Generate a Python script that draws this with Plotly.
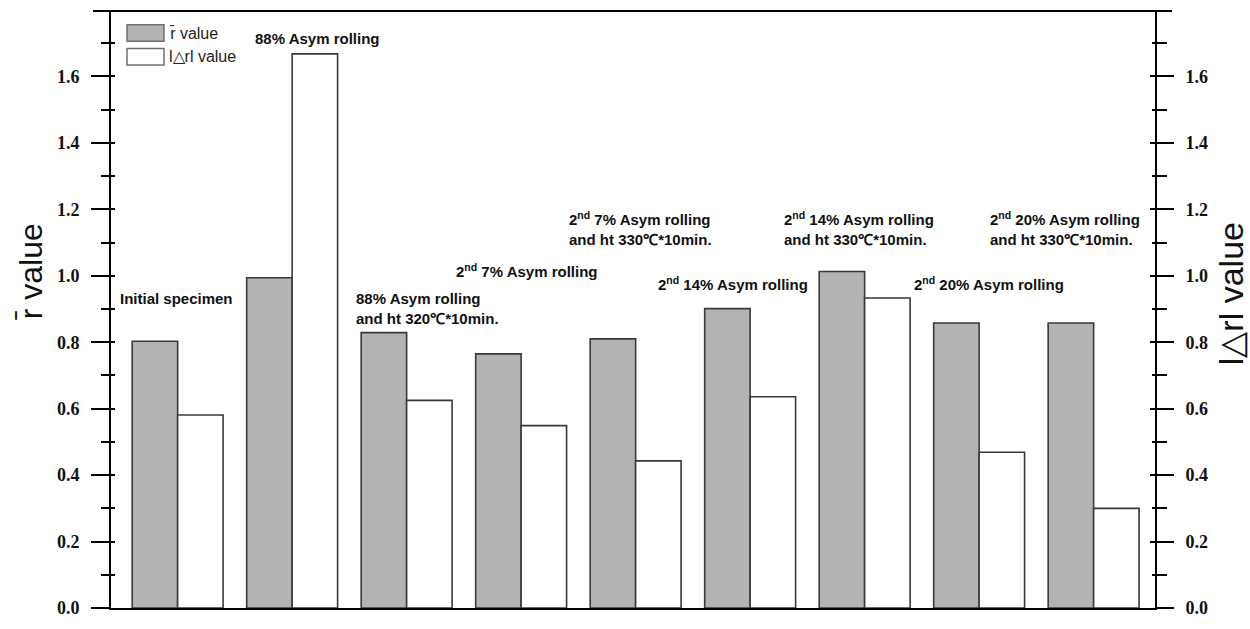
import plotly.graph_objects as go

# Sample conditions (one group of two bars each)
conditions = [
    "Initial specimen",
    "88% Asym rolling",
    "88% Asym rolling and ht 320℃*10min.",
    "2nd 7% Asym rolling",
    "2nd 7% Asym rolling and ht 330℃*10min.",
    "2nd 14% Asym rolling",
    "2nd 14% Asym rolling and ht 330℃*10min.",
    "2nd 20% Asym rolling",
    "2nd 20% Asym rolling and ht 330℃*10min.",
]
r_bar = [0.803, 0.994, 0.829, 0.765, 0.810, 0.901, 1.013, 0.858, 0.858]
delta_r = [0.581, 1.668, 0.625, 0.549, 0.443, 0.636, 0.933, 0.469, 0.300]

# Condition labels as drawn on the chart
labels = [
    "Initial specimen",
    "88% Asym rolling",
    "88% Asym rolling<br>and ht 320℃*10min.",
    "2<sup>nd</sup> 7% Asym rolling",
    "2<sup>nd</sup> 7% Asym rolling<br>and ht 330℃*10min.",
    "2<sup>nd</sup> 14% Asym rolling",
    "2<sup>nd</sup> 14% Asym rolling<br>and ht 330℃*10min.",
    "2<sup>nd</sup> 20% Asym rolling",
    "2<sup>nd</sup> 20% Asym rolling<br>and ht 330℃*10min.",
]
# label anchor (x in group units, y in value units)
label_x = [0.479, 1.656, 2.543, 3.416, 4.398, 5.178, 6.281, 7.416, 8.080]
label_y = [0.931, 1.713, 0.902, 1.016, 1.143, 0.978, 1.143, 0.978, 1.143]

x_pos = list(range(1, len(conditions) + 1))
Y_RANGE = [0, 1.797]
X_RANGE = [0.418, 9.536]
BAR_W = 0.397
GRAY = "#b3b3b3"
EDGE = "#3a3a3a"
TICK_FONT = dict(family="Liberation Serif, Times New Roman, serif", size=18,
                 color="#111", weight="bold")
SANS = "Liberation Sans, Arial, sans-serif"

# plot area in page pixels
PL, PR, PT, PB = 111, 1155, 11, 616


def px(x):
    return (x - PL) / (PR - PL)


def py(y):
    return (PB - y) / (PB - PT)


fig = go.Figure()
fig.add_trace(go.Bar(
    x=x_pos, y=r_bar, width=BAR_W, offset=-BAR_W,
    marker=dict(color=GRAY, line=dict(color=EDGE, width=1.6)),
    yaxis="y", name="r̄ value", showlegend=False, hovertext=conditions,
))
fig.add_trace(go.Bar(
    x=x_pos, y=delta_r, width=BAR_W, offset=0,
    marker=dict(color="white", line=dict(color=EDGE, width=1.6)),
    yaxis="y2", name="l△rl value", showlegend=False, hovertext=conditions,
))

axis_common = dict(range=Y_RANGE, dtick=0.2, tickformat=".1f", showgrid=False,
                   zeroline=False, fixedrange=True)

fig.update_layout(
    width=1250, height=629,
    margin=dict(l=PL, r=1250 - PR, t=PT, b=629 - PB),
    paper_bgcolor="white", plot_bgcolor="white",
    barmode="overlay",
    xaxis=dict(range=X_RANGE, showticklabels=False, ticks="", showgrid=False,
               zeroline=False, showline=True, linecolor="black", linewidth=2),
    yaxis=dict(**axis_common, side="left", showline=True, linecolor="black", linewidth=2,
               ticks="outside", ticklen=18, tickwidth=2, tickcolor="black",
               ticklabelstandoff=8, tickfont=TICK_FONT,
               minor=dict(dtick=0.1, ticks="outside", ticklen=8, tickwidth=2, tickcolor="black")),
    yaxis2=dict(**axis_common, side="right", overlaying="y", showline=True, linecolor="black",
                linewidth=2, ticks="outside", ticklen=17, tickwidth=2, tickcolor="black",
                ticklabelstandoff=8, tickfont=TICK_FONT,
                minor=dict(dtick=0.1, ticks="outside", ticklen=10, tickwidth=2, tickcolor="black")),
    # short inner stubs so the ticks cross the axis lines
    yaxis3=dict(**axis_common, side="left", overlaying="y", showline=False, showticklabels=False,
                ticks="inside", ticklen=4, tickwidth=2, tickcolor="black",
                minor=dict(dtick=0.1, ticks="inside", ticklen=4, tickwidth=2, tickcolor="black")),
    yaxis4=dict(**axis_common, side="right", overlaying="y", showline=False, showticklabels=False,
                ticks="inside", ticklen=5, tickwidth=2, tickcolor="black",
                minor=dict(dtick=0.1, ticks="inside", ticklen=3, tickwidth=2, tickcolor="black")),
)

# dummy traces to activate the stub axes
fig.add_trace(go.Scatter(x=[None], y=[None], yaxis="y3", showlegend=False, hoverinfo="skip"))
fig.add_trace(go.Scatter(x=[None], y=[None], yaxis="y4", showlegend=False, hoverinfo="skip"))

# top frame line, extending slightly past both axes
fig.add_shape(type="line", xref="paper", yref="paper", x0=px(93), x1=px(1172), y0=1, y1=1,
              line=dict(color="black", width=2))

# condition labels
for txt, lx, ly in zip(labels, label_x, label_y):
    fig.add_annotation(x=lx, y=ly, xref="x", yref="y", text=txt, showarrow=False,
                       xanchor="left", yanchor="middle", align="left",
                       font=dict(family=SANS, size=15, color="#111", weight="bold"))

# axis titles
fig.add_annotation(x=px(31), y=py(276), xref="paper", yref="paper",
                   text="r̄ value", showarrow=False, textangle=-90,
                   xanchor="center", yanchor="middle",
                   font=dict(family=SANS, size=32, color="#111"))
fig.add_annotation(x=px(1231), y=py(298), xref="paper", yref="paper",
                   text="l△rl value", showarrow=False, textangle=-90,
                   xanchor="center", yanchor="middle",
                   font=dict(family=SANS, size=34, color="#111"))

# legend
legend_items = [("r̄ value", GRAY, 25, 41.7), ("l△rl value", "white", 49, 65.7)]
for name, fill, top, bot in legend_items:
    fig.add_shape(type="rect", xref="paper", yref="paper", layer="above",
                  x0=px(127), x1=px(164), y0=py(bot), y1=py(top),
                  fillcolor=fill, line=dict(color="#707070", width=1.5))
    fig.add_annotation(x=px(167), y=py((top + bot) / 2), xref="paper", yref="paper",
                       text=name, showarrow=False, xanchor="left", yanchor="middle",
                       font=dict(family=SANS, size=16, color="#222"))

fig.write_html("out.html")
